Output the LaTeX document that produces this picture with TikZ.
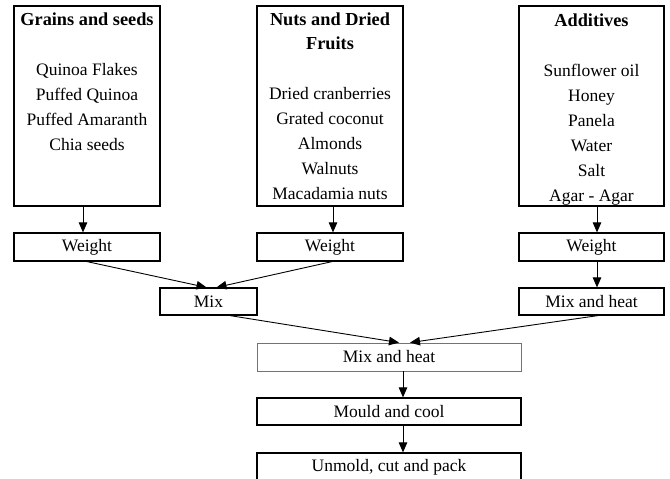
\documentclass[tikz,border=0pt]{standalone}
\usepackage{fontspec}
\setmainfont{Liberation Serif}
\usetikzlibrary{arrows.meta}
\begin{document}
\begin{tikzpicture}[x=1pt,y=-1pt,
  txt/.style={font=\fontsize{17.5}{25}\selectfont},
  bigbox/.style={draw, line width=1.3pt, minimum width=146pt, minimum height=200pt, inner sep=0pt},
  box/.style={draw, line width=1.2pt, minimum width=146pt, minimum height=28pt, inner sep=0pt, txt},
  widebox/.style={box, minimum width=264pt},
  item/.style={anchor=base, inner sep=0pt, txt},
  head/.style={anchor=base, inner sep=0pt, font=\fontsize{18.3}{25}\selectfont\bfseries},
  arr/.style={-{Triangle[length=10pt,width=8.5pt]}, line width=0.9pt}]
\clip (0,0) rectangle (670,479);
\fill[white] (0,0) rectangle (670,479);
% input boxes
\node[bigbox] (g1) at (87,106) {};
\node[head] (g1h) at (87,25) {Grains and seeds};
\foreach \t [count=\i] in {Quinoa Flakes, Puffed Quinoa, Puffed Amaranth, Chia seeds}
  \node[item] (g1i\i) at (87,{50+25*\i}) {\t};
\node[bigbox] (g2) at (330,106) {};
\node[head] (g2h) at (330,25) {Nuts and Dried};
\node[head] (g2h2) at (330,49) {Fruits};
\foreach \t [count=\i] in {Dried cranberries, Grated coconut, Almonds, Walnuts, Macadamia nuts}
  \node[item] (g2i\i) at (330,{74+25*\i}) {\t};
\node[bigbox, minimum width=145pt] (g3) at (591.5,106) {};
\node[head] (g3h) at (591.5,26) {Additives};
\foreach \t [count=\i] in {Sunflower oil, Honey, Panela, Water, Salt, Agar - Agar}
  \node[item] (g3i\i) at (591.5,{51+25*\i}) {\t};
% process boxes
\node[box] (w1) at (87,247) {Weight};
\node[box] (w2) at (330,247) {Weight};
\node[box, minimum width=145pt] (w3) at (591.5,247) {Weight};
\node[box, minimum width=97pt, minimum height=27pt] (mix) at (208.5,301.5) {Mix};
\node[box, minimum width=145pt, minimum height=27pt] (mh1) at (591.5,301.5) {Mix and heat};
\node[widebox, draw=black!55, line width=0.8pt] (mh2) at (389,357) {Mix and heat};
\node[widebox, minimum height=27pt] (mc) at (389,411.5) {Mould and cool};
\node[widebox] (um) at (389,467) {Unmold, cut and pack};
% connectors
\draw[arr] ([xshift=-4pt]g1.south) -- ([xshift=-4pt]w1.north);
\draw[arr] ([xshift=3pt]g2.south) -- ([xshift=3pt]w2.north);
\draw[arr] ([xshift=5.5pt]g3.south) -- ([xshift=5.5pt]w3.north);
\draw[arr] (w1.south) -- ([xshift=-2pt]mix.north);
\draw[arr] ([xshift=2pt]w2.south) -- ([xshift=8pt]mix.north);
\draw[arr] ([xshift=5.5pt]w3.south) -- ([xshift=5.5pt]mh1.north);
\draw[arr] ([xshift=21.5pt]mix.south) -- ([xshift=10pt]mh2.north);
\draw[arr] ([xshift=6.5pt]mh1.south) -- ([xshift=21pt]mh2.north);
\draw[arr] ([xshift=14pt]mh2.south) -- ([xshift=14pt]mc.north);
\draw[arr] ([xshift=14pt]mc.south) -- ([xshift=14pt]um.north);
\end{tikzpicture}
\end{document}
